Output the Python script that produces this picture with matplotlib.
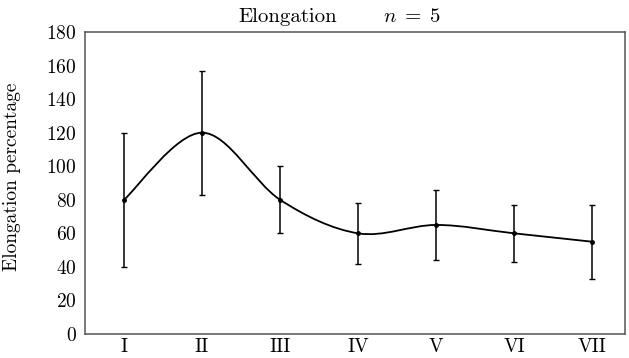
import matplotlib
matplotlib.use("Agg")
import matplotlib.pyplot as plt
from matplotlib.path import Path
from matplotlib.patches import PathPatch
import numpy as np

plt.rcParams['font.family'] = 'serif'
plt.rcParams['font.serif'] = ['cmr10']
plt.rcParams['mathtext.fontset'] = 'cm'
plt.rcParams['axes.formatter.use_mathtext'] = True

categories = ["I", "II", "III", "IV", "V", "VI", "VII"]
means = [80, 120, 80, 60, 65, 60, 55]
lower = [40, 83, 60, 42, 44, 43, 33]
upper = [120, 157, 100, 78, 86, 77, 77]
yticks = [0, 20, 40, 60, 80, 100, 120, 140, 160, 180]

fig = plt.figure(figsize=(6.29, 3.58), dpi=100)
ax = fig.add_axes([85/629, 1-334/358, (625-85)/629, (334-32)/358])

x = np.arange(len(categories), dtype=float)
y = np.array(means, dtype=float)

# smooth Catmull-Rom curve through the points as cubic Bezier segments
verts = [(x[0], y[0])]
codes = [Path.MOVETO]
n = len(x)
for i in range(n - 1):
    p0 = np.array([x[max(i-1, 0)], y[max(i-1, 0)]])
    p1 = np.array([x[i], y[i]])
    p2 = np.array([x[i+1], y[i+1]])
    p3 = np.array([x[min(i+2, n-1)], y[min(i+2, n-1)]])
    c1 = p1 + (p2 - p0) / 6.0
    c2 = p2 - (p3 - p1) / 6.0
    verts += [tuple(c1), tuple(c2), tuple(p2)]
    codes += [Path.CURVE4, Path.CURVE4, Path.CURVE4]
ax.add_patch(PathPatch(Path(verts, codes), fill=False, edgecolor='black', lw=1.3, zorder=3))

yerr = np.array([y - np.array(lower), np.array(upper) - y])
ax.errorbar(x, y, yerr=yerr, fmt='o', color='black', ms=2.5, elinewidth=1.1,
            capsize=2, capthick=1.0, zorder=4)

ax.set_xlim(-0.5, 6.42)
ax.set_ylim(0, 180)
ax.set_xticks(x)
ax.set_xticklabels(categories)
ax.set_yticks(yticks)
ax.tick_params(axis='y', length=0, labelsize=14, pad=6)
ax.tick_params(axis='x', length=0, labelsize=14, pad=3)
ax.set_ylabel("Elongation percentage", fontsize=14, labelpad=6)
ax.yaxis.set_label_coords(-0.118, 0.52)
for s in ax.spines.values():
    s.set_color('#555555')
    s.set_linewidth(1.1)

fig.text(288/629, 1-17/358, "Elongation", ha='center', va='center', fontsize=15)
fig.text(412/629, 1-17/358, r"$n\;=\;5$", ha='center', va='center', fontsize=15)

fig.savefig("out.png", dpi=100)
